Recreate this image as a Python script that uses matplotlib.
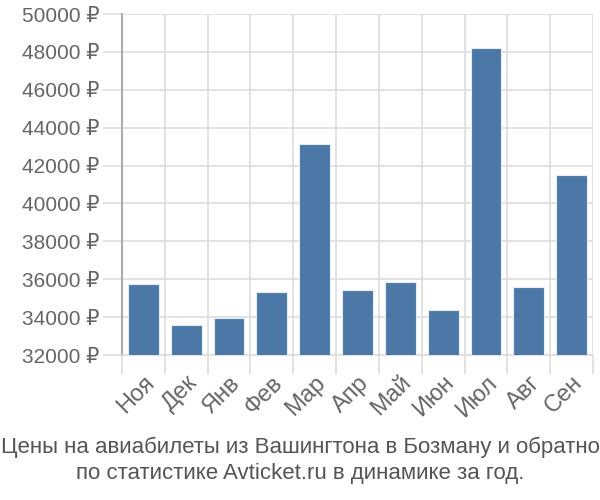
import numpy as np
import matplotlib.pyplot as plt

plt.rcParams['font.family'] = ['Liberation Sans', 'DejaVu Sans']

# Данные: цены по месяцам
months = ['Ноя', 'Дек', 'Янв', 'Фев', 'Мар', 'Апр', 'Май', 'Июн', 'Июл', 'Авг', 'Сен']
prices = [35750, 33580, 33950, 35330, 43140, 35430, 35850, 34380, 48210, 35590, 41500]
yticks = np.arange(32000, 50001, 2000)

fig = plt.figure(figsize=(6, 5), dpi=100)
ax = fig.add_axes([122 / 600, 1 - 355 / 500, 471 / 600, 341 / 500])

x = np.arange(len(months))
ax.bar(x, prices, width=0.72, color='#4c78a8', edgecolor='#e4ecf4', linewidth=0.8, zorder=3)

ax.set_xlim(-0.5, len(months) - 0.5)
ax.set_ylim(32000, 50000)

# Сетка
ax.set_yticks(yticks)
ax.set_yticklabels([f'{v} ₽' for v in yticks])
ax.set_xticks(x)
ax.set_xticklabels(months, rotation=45, ha='right', va='top', rotation_mode='anchor')
ax.set_xticks(np.arange(-0.5, len(months)), minor=True)

ax.grid(True, axis='y', color='#dddddd', linewidth=1.2, zorder=0)
ax.grid(True, axis='x', which='minor', color='#dddddd', linewidth=1.2, zorder=0)

ax.tick_params(axis='y', length=14, color='#dddddd', width=1.2, labelsize=15, labelcolor='#666666', pad=2)
ax.tick_params(axis='x', which='major', length=0, labelsize=17, labelcolor='#666666', pad=12)
ax.tick_params(axis='x', which='minor', length=14, color='#dddddd', width=1.2)

for s in ['top', 'right']:
    ax.spines[s].set_visible(False)
ax.spines['bottom'].set_color('#dddddd')
ax.spines['bottom'].set_linewidth(1.2)
ax.spines['left'].set_color('#aaaaaa')
ax.spines['left'].set_linewidth(1.5)
ax.spines['left'].set_bounds(32000, 50000)

# Подпись
fig.text(0.5, 1 - 447 / 500, 'Цены на авиабилеты из Вашингтона в Бозману и обратно',
         ha='center', va='center', fontsize=16, color='#555555')
fig.text(0.5, 1 - 473 / 500, 'по статистике Avticket.ru в динамике за год.',
         ha='center', va='center', fontsize=16, color='#555555')

fig.savefig('out.png', dpi=100)
